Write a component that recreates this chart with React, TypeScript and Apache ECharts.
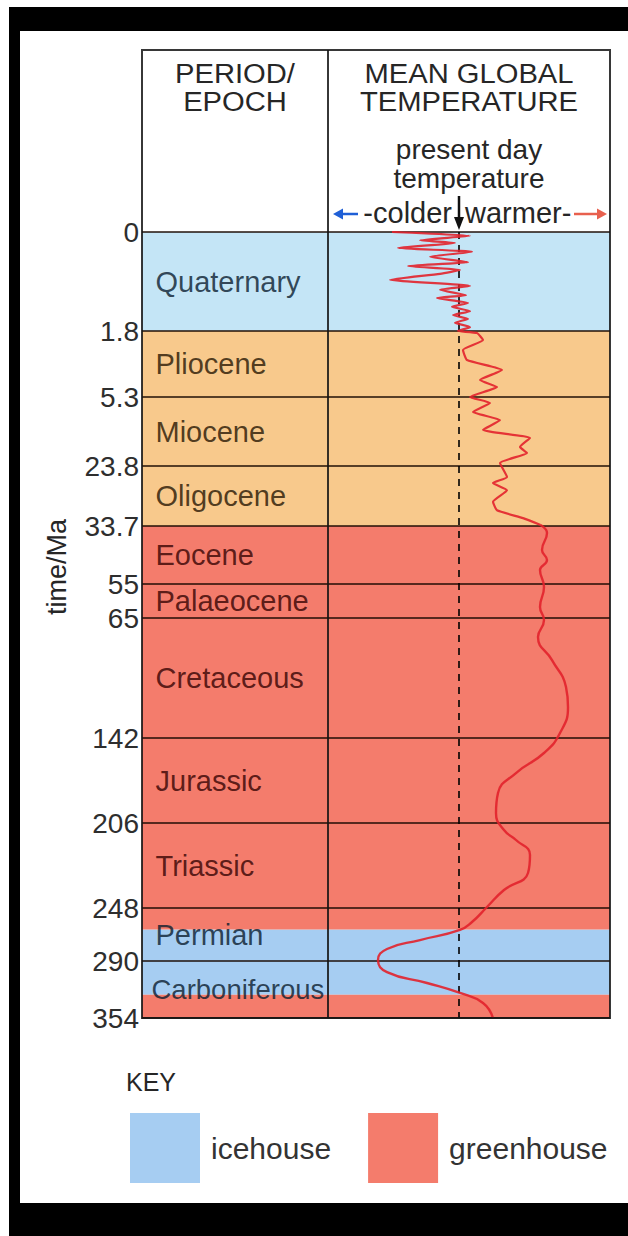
import React, { useEffect, useRef } from 'react';
import * as echarts from 'echarts';

// ---------------- DATA ----------------
const boundaryMa = [0, 1.8, 5.3, 23.8, 33.7, 55, 65, 142, 206, 248, 290, 354];
const boundaryLabels = ['0', '1.8', '5.3', '23.8', '33.7', '55', '65', '142', '206', '248', '290', '354'];
const periods = ['Quaternary', 'Pliocene', 'Miocene', 'Oligocene', 'Eocene', 'Palaeocene', 'Cretaceous', 'Jurassic', 'Triassic', 'Permian', 'Carboniferous'];

// climate regime bands (Ma)
const bandStart = [0, 1.8, 33.7, 265, 328];
const bandEnd = [1.8, 33.7, 265, 328, 354];
const bandRegime = ['icehouse', 'transition', 'greenhouse', 'icehouse', 'greenhouse'];
const keyRegimes = ['icehouse', 'greenhouse'];

// mean global temperature relative to present day (arbitrary units; + warmer, - colder)
const recentMa = [0, 0.07, 0.15, 0.2, 0.29, 0.36, 0.45, 0.55, 0.62, 0.69, 0.76, 0.87, 0.98, 1.05, 1.15, 1.2, 1.29, 1.36, 1.44, 1.51, 1.58, 1.65, 1.73, 1.8, 1.91, 2.28, 2.81, 3.34, 3.87, 4.4, 4.77, 5.3, 6.9, 9.3, 11.5, 14.1, 16.3, 18.7, 20.3, 23.0, 25.6, 26.6, 27.8, 29.7, 31.1, 32.4, 33.5];
const recentTemp = [-6.7, 1.1, -3.9, -0.4, -6.1, 1.3, -2.9, 0.9, -5.1, 0.1, -1.9, -6.9, 1.1, -1.9, 0.7, -2.2, 0.9, -0.7, 1.1, -0.6, 0.9, -0.4, 1.1, -0.1, 1.8, 2.4, 0.4, 0.8, 4.3, 2.1, 3.8, 1.1, 3.1, 1.4, 4.1, 2.4, 7.1, 6.1, 6.8, 4.1, 4.8, 3.4, 4.8, 3.4, 3.8, 6.4, 8.1];
const deepMa = [33.5, 36.3, 42.5, 46.2, 49.9, 55.9, 61.8, 66.3, 77.2, 92.0, 109.3, 122.1, 138.8, 153.3, 168.4, 183.4, 198.5, 209.5, 214.4, 221.8, 230.7, 239.1, 247.5, 259.1, 265.4, 273.4, 280.5, 289.3, 302.4, 314.7, 325.9, 337.1, 354];
const deepTemp = [8.1, 8.8, 8.3, 8.8, 8.1, 8.5, 8.1, 8.5, 7.9, 9.3, 10.7, 10.9, 10.1, 8.5, 5.7, 3.9, 3.7, 4.5, 5.7, 7.1, 6.9, 4.5, 2.8, 1.3, 0.1, -3.9, -7.2, -8.1, -7.2, -3.2, 0.1, 2.4, 3.4];

// ---------------- LAYOUT / STYLE ----------------
const W = 628;
const H = 1236;
const FONT = '"Liberation Sans", Arial, Helvetica, sans-serif';
const TABLE_LEFT = 142;
const DIVIDER_X = 328;
const TABLE_RIGHT = 610;
const TABLE_TOP = 50;
const AXIS_TOP = 232;
const T_MIN = -13.1;
const T_MAX = 15.1;
// drawn height (px) of each period row – the column is not to scale
const rowHeights = [99, 66, 69, 60, 58, 34, 120, 85, 85, 53, 57];

const regimeColor: Record<string, string> = {
  icehouse: '#a6cdf2',
  transition: '#f8c98c',
  greenhouse: '#f47c6c',
};
const quaternaryBlue = '#c4e5f6';
const regimeText: Record<string, string> = {
  icehouse: '#0a1c2e',
  transition: '#261503',
  greenhouse: '#340303',
};
const LINE_DARK = 'rgba(25,8,0,0.72)';

export default function App() {
  const ref = useRef<HTMLDivElement>(null);

  useEffect(() => {
    const chart = echarts.init(ref.current!, null, { renderer: 'svg' });

    const cum: number[] = [0];
    rowHeights.forEach((h) => cum.push(cum[cum.length - 1] + h));
    const total = cum[cum.length - 1];
    const AXIS_BOTTOM = AXIS_TOP + total;

    const maToPos = (ma: number) => {
      for (let i = 0; i < boundaryMa.length - 1; i++) {
        const a = boundaryMa[i];
        const b = boundaryMa[i + 1];
        if (ma <= b || i === boundaryMa.length - 2) {
          return cum[i] + ((ma - a) / (b - a)) * rowHeights[i];
        }
      }
      return total;
    };
    const regimeAt = (ma: number) => {
      for (let i = 0; i < bandStart.length; i++) {
        if (ma >= bandStart[i] && ma <= bandEnd[i]) return bandRegime[i];
      }
      return 'greenhouse';
    };

    const bandSeries = ['icehouse', 'greenhouse', 'transition'].map((reg) => ({
      name: reg,
      type: 'custom',
      xAxisIndex: 0,
      yAxisIndex: 0,
      z: 1,
      silent: true,
      itemStyle: { color: regimeColor[reg] },
      renderItem: (_p: any, api: any) => {
        const p0 = api.coord([0, api.value(0)]);
        const p1 = api.coord([1, api.value(1)]);
        return {
          type: 'rect',
          shape: { x: p0[0], y: p0[1], width: p1[0] - p0[0], height: p1[1] - p0[1] },
          style: api.style(),
        };
      },
      data: bandStart
        .map((s, i) => ({ s, i }))
        .filter(({ i }) => bandRegime[i] === reg)
        .map(({ s, i }) => ({
          value: [maToPos(s), maToPos(bandEnd[i])],
          itemStyle: { color: i === 0 ? quaternaryBlue : regimeColor[reg] },
        })),
    }));

    const periodData = periods.map((name, i) => {
      const midMa = (boundaryMa[i] + boundaryMa[i + 1]) / 2;
      const long = name.length > 11;
      return {
        name,
        value: [0, (cum[i] + cum[i + 1]) / 2],
        label: {
          color: regimeText[regimeAt(midMa)],
          fontSize: long ? 27.5 : 29,
          distance: long ? 9 : 13,
        },
      };
    });

    const labelFor = (v: number) => {
      let best = 0;
      for (let i = 0; i < cum.length; i++) {
        if (Math.abs(cum[i] - v) < Math.abs(cum[best] - v)) best = i;
      }
      return boundaryLabels[best];
    };

    const x0 = DIVIDER_X + ((0 - T_MIN) / (T_MAX - T_MIN)) * (TABLE_RIGHT - DIVIDER_X);

    const txt = (text: string, x: number, y: number, size: number, align = 'center', extra: any = {}) => ({
      type: 'text',
      x,
      y,
      z: 120,
      silent: true,
      ...extra,
      style: {
        text,
        font: `${size}px ${FONT}`,
        fill: '#262626',
        textAlign: align,
        textVerticalAlign: 'middle',
      },
    });

    const option: any = {
      animation: false,
      backgroundColor: '#ffffff',
      grid: [
        { left: TABLE_LEFT, top: AXIS_TOP, width: TABLE_RIGHT - TABLE_LEFT, height: total, containLabel: false },
        { left: DIVIDER_X, top: AXIS_TOP, width: TABLE_RIGHT - DIVIDER_X, height: total, containLabel: false },
      ],
      xAxis: [
        { gridIndex: 0, type: 'value', min: 0, max: 1, show: false },
        { gridIndex: 1, type: 'value', min: T_MIN, max: T_MAX, show: false },
      ],
      yAxis: [
        {
          gridIndex: 0,
          type: 'value',
          min: 0,
          max: total,
          inverse: true,
          axisLine: { show: false },
          axisTick: { show: false, customValues: cum },
          splitLine: { show: false },
          axisLabel: {
            customValues: cum,
            formatter: (v: number) => labelFor(v),
            fontSize: 28,
            fontFamily: FONT,
            color: '#2e2e2e',
            margin: 3,
          },
        },
        { gridIndex: 1, type: 'value', min: 0, max: total, inverse: true, show: false },
      ],
      legend: {
        data: keyRegimes,
        left: 125,
        top: 1108,
        icon: 'rect',
        itemWidth: 70,
        itemHeight: 70,
        itemGap: 37,
        selectedMode: false,
        textStyle: { fontSize: 30, fontFamily: FONT, color: '#333', padding: [0, 0, 0, 6] },
      },
      series: [
        ...bandSeries,
        {
          name: 'periods',
          type: 'scatter',
          xAxisIndex: 0,
          yAxisIndex: 0,
          z: 3,
          silent: true,
          symbol: 'circle',
          symbolSize: 1,
          itemStyle: { color: 'rgba(0,0,0,0)' },
          label: {
            show: true,
            position: 'right',
            distance: 13,
            formatter: (p: any) => p.name,
            fontSize: 29,
            fontFamily: FONT,
          },
          data: periodData,
          markLine: {
            silent: true,
            symbol: ['none', 'none'],
            label: { show: false },
            lineStyle: { color: LINE_DARK, width: 2, type: 'solid' },
            data: boundaryMa.map((m) => ({ yAxis: maToPos(m) })),
          },
        },
        {
          name: 'temperature (recent)',
          type: 'line',
          xAxisIndex: 1,
          yAxisIndex: 1,
          z: 5,
          silent: true,
          showSymbol: false,
          symbol: 'none',
          smooth: 0.15,
          lineStyle: { color: '#e2222c', width: 2.2, opacity: 0.9 },
          data: recentMa.map((m, i) => [recentTemp[i], maToPos(m)]),
          markLine: {
            silent: true,
            symbol: ['none', 'none'],
            label: { show: false },
            lineStyle: { color: 'rgba(0,0,0,0.8)', width: 2, type: [7, 6] },
            data: [{ xAxis: 0 }],
          },
        },
        {
          name: 'temperature (deep time)',
          type: 'line',
          xAxisIndex: 1,
          yAxisIndex: 1,
          z: 5,
          silent: true,
          showSymbol: false,
          symbol: 'none',
          smooth: 0.5,
          lineStyle: { color: '#e2222c', width: 2.4, opacity: 0.9 },
          data: deepMa.map((m, i) => [deepTemp[i], maToPos(m)]),
        },
      ],
      graphic: [
        // black photo frame
        { type: 'rect', z: 200, silent: true, shape: { x: 9, y: 7, width: W - 9, height: 24 }, style: { fill: '#000' } },
        { type: 'rect', z: 200, silent: true, shape: { x: 9, y: 7, width: 11, height: H - 7 }, style: { fill: '#000' } },
        { type: 'rect', z: 200, silent: true, shape: { x: 9, y: 1203, width: W - 9, height: H - 1203 }, style: { fill: '#000' } },
        // table borders
        {
          type: 'rect',
          z: 110,
          silent: true,
          shape: { x: TABLE_LEFT, y: TABLE_TOP, width: TABLE_RIGHT - TABLE_LEFT, height: AXIS_BOTTOM - TABLE_TOP },
          style: { fill: 'none', stroke: 'rgba(20,20,20,0.85)', lineWidth: 2 },
        },
        {
          type: 'line',
          z: 110,
          silent: true,
          shape: { x1: DIVIDER_X, y1: TABLE_TOP, x2: DIVIDER_X, y2: AXIS_BOTTOM },
          style: { stroke: 'rgba(20,20,20,0.85)', lineWidth: 2 },
        },
        // headers
        txt('PERIOD/', (TABLE_LEFT + DIVIDER_X) / 2, 74, 27, 'center', { scaleX: 1.08 }),
        txt('EPOCH', (TABLE_LEFT + DIVIDER_X) / 2, 102, 27, 'center', { scaleX: 1.08 }),
        txt('MEAN GLOBAL', (DIVIDER_X + TABLE_RIGHT) / 2, 74, 27, 'center', { scaleX: 1.08 }),
        txt('TEMPERATURE', (DIVIDER_X + TABLE_RIGHT) / 2, 102, 27, 'center', { scaleX: 1.08 }),
        txt('present day', (DIVIDER_X + TABLE_RIGHT) / 2, 149, 28),
        txt('temperature', (DIVIDER_X + TABLE_RIGHT) / 2, 178, 28),
        txt('-colder', x0 - 7, 213, 29, 'right'),
        txt('warmer-', x0 + 6, 213, 29, 'left'),
        // colder arrow (blue)
        { type: 'line', z: 120, silent: true, shape: { x1: 340, y1: 214, x2: 358, y2: 214 }, style: { stroke: '#1f5fd6', lineWidth: 2.5 } },
        { type: 'polygon', z: 120, silent: true, shape: { points: [[333, 214], [343, 208.5], [343, 219.5]] }, style: { fill: '#1f5fd6' } },
        // warmer arrow (red)
        { type: 'line', z: 120, silent: true, shape: { x1: 574, y1: 214, x2: 598, y2: 214 }, style: { stroke: '#e8604e', lineWidth: 2.5 } },
        { type: 'polygon', z: 120, silent: true, shape: { points: [[607, 214], [597, 208.5], [597, 219.5]] }, style: { fill: '#e8604e' } },
        // present-day arrow (black, down)
        { type: 'line', z: 120, silent: true, shape: { x1: x0, y1: 196, x2: x0, y2: 220 }, style: { stroke: '#111', lineWidth: 2.5 } },
        { type: 'polygon', z: 120, silent: true, shape: { points: [[x0 - 5, 217], [x0 + 5, 217], [x0, 230]] }, style: { fill: '#111' } },
        // axis title
        txt('time/Ma', 57, 567, 27, 'center', { rotation: Math.PI / 2 }),
        // key title
        txt('KEY', 126, 1082, 25, 'left'),
      ],
    };

    chart.setOption(option);
    return () => chart.dispose();
  }, []);

  return (
    <div
      ref={ref}
      style={{ position: 'absolute', left: 0, top: 0, width: W, height: H, background: '#ffffff' }}
    />
  );
}
